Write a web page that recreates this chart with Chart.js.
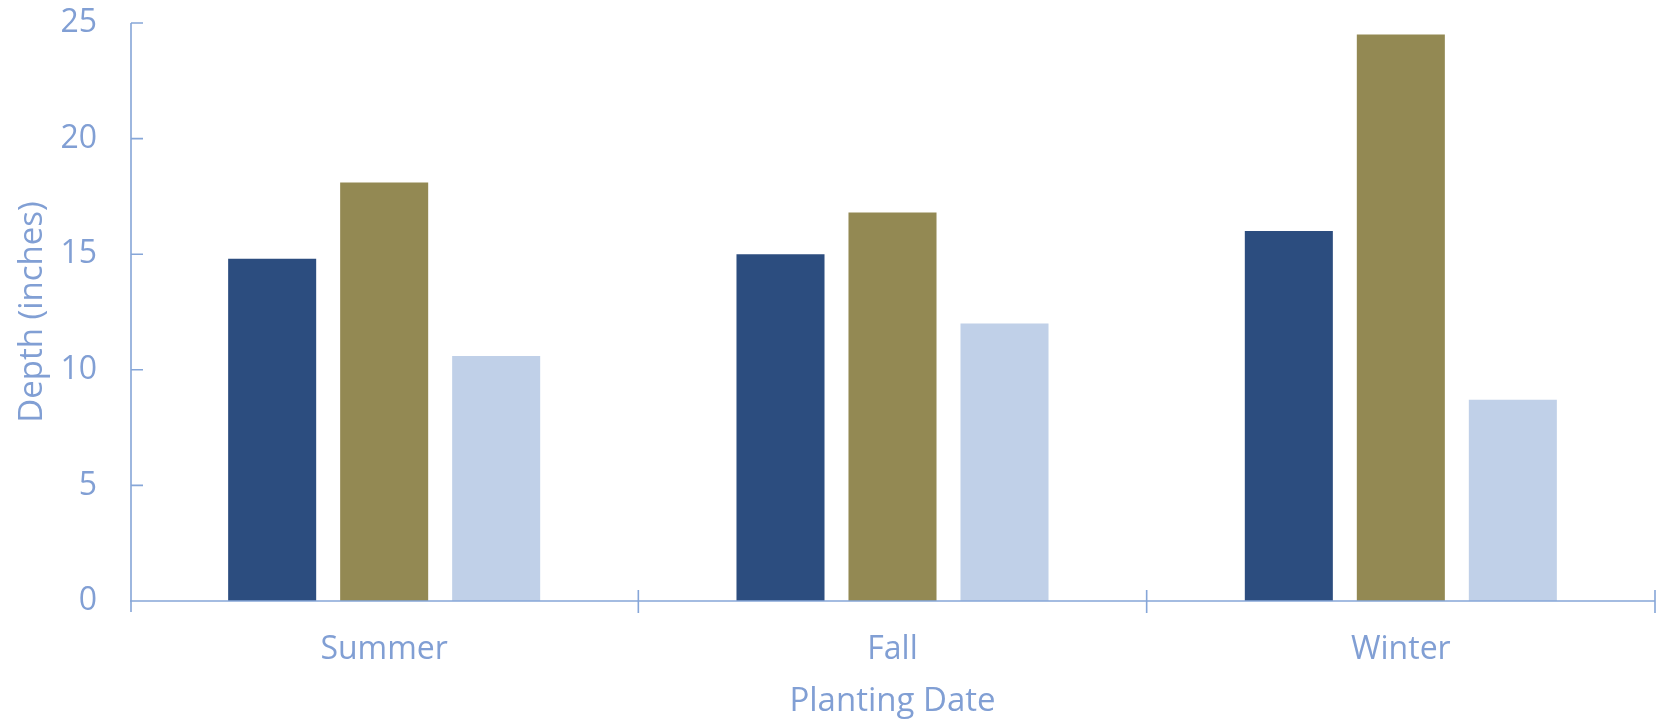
<!DOCTYPE html>
<html>
<head>
<meta charset="utf-8">
<script src="https://cdn.jsdelivr.net/npm/chart.js@4.4.1/dist/chart.umd.min.js"></script>
<style>
  html, body { margin: 0; padding: 0; background: #ffffff; }
  #wrap { width: 1661px; height: 721px; }
</style>
</head>
<body>
<div id="wrap"><canvas id="chart" width="1661" height="721"></canvas></div>
<script>
// Planting dates on the category axis
const categories = ['Summer', 'Fall', 'Winter'];
// Depth in inches for each of the three series
const seriesA = [14.8, 15.0, 16.0];
const seriesB = [18.1, 16.8, 24.5];
const seriesC = [10.6, 12.0, 8.7];
// Value axis ticks
const yTicks = [0, 5, 10, 15, 20, 25];

const axisColor = '#86A6D8';
const textColor = '#819FD4';
const fontFamily = '"Open Sans", "DejaVu Sans", sans-serif';

// Axis lines and tick marks drawn from the scales' own pixel mapping
const axisPlugin = {
  id: 'axisLines',
  afterDatasetsDraw(chart) {
    const ctx = chart.ctx;
    const xs = chart.scales.x;
    const ys = chart.scales.y;
    const x0 = ys.right + 1;
    const yZero = ys.getPixelForValue(0);
    const yTop = ys.getPixelForValue(yTicks[yTicks.length - 1]);
    ctx.save();
    ctx.strokeStyle = axisColor;
    ctx.lineWidth = 1.6;
    ctx.beginPath();
    // value axis line, running slightly past the baseline
    ctx.moveTo(x0, yTop);
    ctx.lineTo(x0, yZero + 11);
    // value ticks pointing into the plot
    yTicks.forEach(v => {
      const py = ys.getPixelForValue(v);
      ctx.moveTo(x0, py);
      ctx.lineTo(x0 + 12, py);
    });
    // category axis line
    ctx.moveTo(xs.left, yZero);
    ctx.lineTo(xs.right, yZero);
    // category boundary ticks crossing the axis
    const step = (xs.right - xs.left) / categories.length;
    for (let i = 1; i <= categories.length; i++) {
      const px = xs.left + i * step;
      ctx.moveTo(px, yZero - 11);
      ctx.lineTo(px, yZero + 12);
    }
    ctx.stroke();
    ctx.restore();
  }
};

new Chart(document.getElementById('chart'), {
  type: 'bar',
  data: {
    labels: categories,
    datasets: [
      { data: seriesA, backgroundColor: '#2C4D7F' },
      { data: seriesB, backgroundColor: '#938953' },
      { data: seriesC, backgroundColor: '#C0D0E8' }
    ]
  },
  options: {
    responsive: false,
    animation: false,
    events: [],
    layout: { padding: { top: 23, right: 6, left: 0, bottom: 0 } },
    plugins: {
      legend: { display: false },
      tooltip: { enabled: false }
    },
    datasets: {
      bar: { categoryPercentage: 0.661, barPercentage: 0.786 }
    },
    scales: {
      x: {
        offset: true,
        grid: { display: false, drawTicks: false },
        border: { display: false },
        ticks: { color: textColor, font: { family: fontFamily, size: 32 }, padding: 30, maxRotation: 0 },
        title: {
          display: true, text: 'Planting Date', color: textColor,
          font: { family: fontFamily, size: 33 }, padding: { top: 0, bottom: 0 }
        },
        afterFit(scale) { scale.height = 120; scale.paddingLeft = 0; scale.paddingRight = 0; }
      },
      y: {
        min: 0, max: 25,
        afterBuildTicks(scale) { scale.ticks = yTicks.map(v => ({ value: v })); },
        grid: { display: false, drawTicks: false },
        border: { display: false },
        ticks: { color: textColor, font: { family: fontFamily, size: 32 }, padding: 33, crossAlign: 'near' },
        title: {
          display: true, text: 'Depth (inches)', color: textColor,
          font: { family: fontFamily, size: 33 }, padding: { top: 13, bottom: 0 }
        },
        afterFit(scale) { scale.width = 130; scale.paddingTop = 0; scale.paddingBottom = 0; }
      }
    }
  },
  plugins: [axisPlugin]
});
</script>
</body>
</html>
